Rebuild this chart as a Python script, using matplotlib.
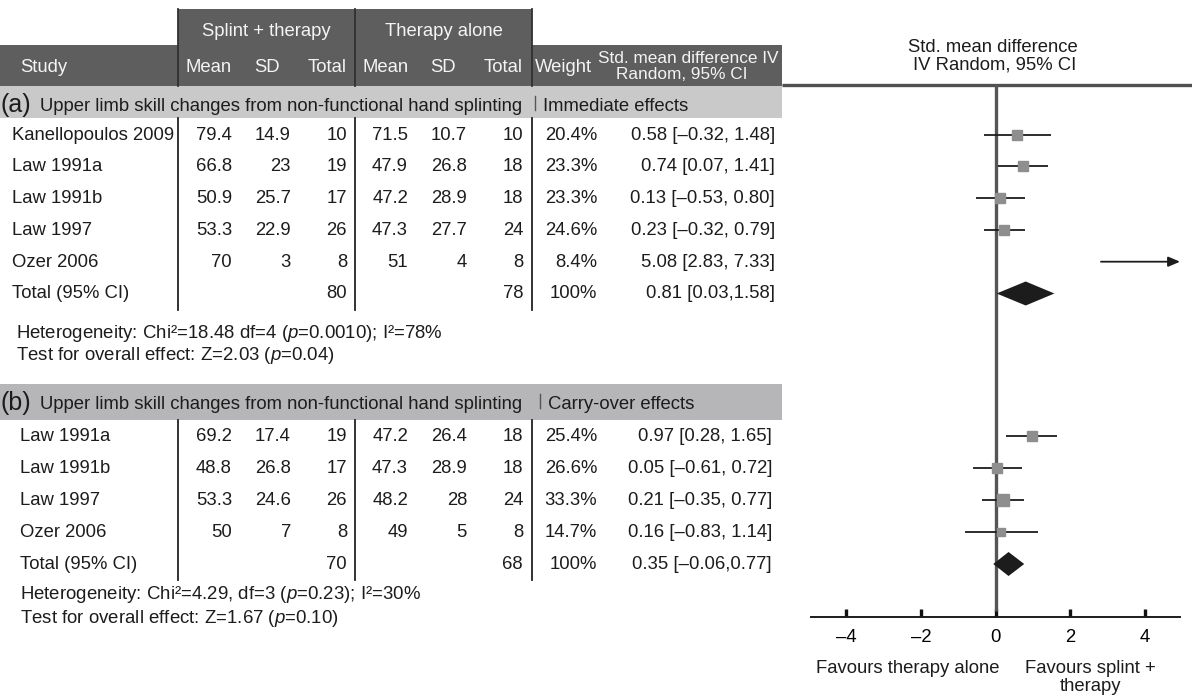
import matplotlib
matplotlib.use("Agg")
import matplotlib.pyplot as plt
from matplotlib.patches import Rectangle, Polygon
import numpy as np

plt.rcParams['font.family'] = ['Liberation Sans', 'DejaVu Sans']
plt.rcParams['mathtext.fontset'] = 'custom'
plt.rcParams['mathtext.rm'] = 'Liberation Sans'
plt.rcParams['mathtext.it'] = 'Liberation Sans:italic'

# ---- data: (a) immediate effects ----
studies_a = ["Kanellopoulos 2009", "Law 1991a", "Law 1991b", "Law 1997", "Ozer 2006"]
st_mean_a = [79.4, 66.8, 50.9, 53.3, 70]
st_sd_a = [14.9, 23, 25.7, 22.9, 3]
st_n_a = [10, 19, 17, 26, 8]
th_mean_a = [71.5, 47.9, 47.2, 47.3, 51]
th_sd_a = [10.7, 26.8, 28.9, 27.7, 4]
th_n_a = [10, 18, 18, 24, 8]
weight_a = [20.4, 23.3, 23.3, 24.6, 8.4]
smd_a = [0.58, 0.74, 0.13, 0.23, 5.08]
lo_a = [-0.32, 0.07, -0.53, -0.32, 2.83]
hi_a = [1.48, 1.41, 0.80, 0.79, 7.33]
total_n_a = [80, 78]
total_smd_a = [0.81, 0.03, 1.58]
het_a = "Heterogeneity: Chi²=18.48 df=4 ($p$=0.0010); I²=78%"
test_a = "Test for overall effect: Z=2.03 ($p$=0.04)"

# ---- data: (b) carry-over effects ----
studies_b = ["Law 1991a", "Law 1991b", "Law 1997", "Ozer 2006"]
st_mean_b = [69.2, 48.8, 53.3, 50]
st_sd_b = [17.4, 26.8, 24.6, 7]
st_n_b = [19, 17, 26, 8]
th_mean_b = [47.2, 47.3, 48.2, 49]
th_sd_b = [26.4, 28.9, 28, 5]
th_n_b = [18, 18, 24, 8]
weight_b = [25.4, 26.6, 33.3, 14.7]
smd_b = [0.97, 0.05, 0.21, 0.16]
lo_b = [0.28, -0.61, -0.35, -0.83]
hi_b = [1.65, 0.72, 0.77, 1.14]
total_n_b = [70, 68]
total_smd_b = [0.35, -0.06, 0.77]
het_b = "Heterogeneity: Chi²=4.29, df=3 ($p$=0.23); I²=30%"
test_b = "Test for overall effect: Z=1.67 ($p$=0.10)"

tick_values = [-4, -2, 0, 2, 4]
xlim_smd = (-4.95, 4.95)

# ---- styling ----
W, H = 1192, 697
FS = 13.3
DARK = "#5e5e5e"
BAND_A = "#c9c9c9"
BAND_B = "#b6b6b8"
HDR_TXT = "#f4f4f4"
INK = "#1c1c1c"
SQ = "#8e8e8e"

fig = plt.figure(figsize=(W / 100, H / 100), dpi=100)
ax = fig.add_axes([0, 0, 1, 1])
ax.set_xlim(0, W)
ax.set_ylim(H, 0)
ax.axis("off")

# column right edges (table)
c_mean1, c_sd1, c_n1 = 232, 291, 347
c_mean2, c_sd2, c_n2 = 408, 467, 523
c_w = 597
sep_x = [178, 355, 532]
table_right = 782


def dash(s):
    return s.replace("-", "\u2013")


def ci_text(e, l, h, space=True):
    sep = ", " if space else ","
    return dash(f"{e:.2f} [{l:.2f}{sep}{h:.2f}]")


def fmt(v):
    return f"{v:g}"


# header blocks
ax.add_patch(Rectangle((178, 9), 532 - 178, 36, color=DARK, lw=0))
ax.add_patch(Rectangle((0, 45), table_right, 41, color=DARK, lw=0))
for x in sep_x:
    ax.plot([x, x], [9, 86], color="#303030", lw=1.3)

ax.text((178 + 355) / 2, 36, "Splint + therapy", ha="center", va="baseline", fontsize=FS, color=HDR_TXT)
ax.text((355 + 532) / 2, 36, "Therapy alone", ha="center", va="baseline", fontsize=FS, color=HDR_TXT)
hb = 72
ax.text(20, hb, "Study", ha="left", va="baseline", fontsize=FS, color=HDR_TXT)
ax.text(c_mean1, hb, "Mean", ha="right", va="baseline", fontsize=FS, color=HDR_TXT)
ax.text(267, hb, "SD", ha="center", va="baseline", fontsize=FS, color=HDR_TXT)
ax.text(c_n1, hb, "Total", ha="right", va="baseline", fontsize=FS, color=HDR_TXT)
ax.text(386, hb, "Mean", ha="center", va="baseline", fontsize=FS, color=HDR_TXT)
ax.text(443, hb, "SD", ha="center", va="baseline", fontsize=FS, color=HDR_TXT)
ax.text(c_n2, hb, "Total", ha="right", va="baseline", fontsize=FS, color=HDR_TXT)
ax.text(563, hb, "Weight", ha="center", va="baseline", fontsize=FS, color=HDR_TXT)
ax.text(688, 63, "Std. mean difference IV", ha="center", va="baseline", fontsize=FS - 0.9, color=HDR_TXT)
ax.text(682, 79, "Random, 95% CI", ha="center", va="baseline", fontsize=FS - 0.9, color=HDR_TXT)

# forest header
ax.text(993, 52, "Std. mean difference", ha="center", va="baseline", fontsize=FS, color=INK)
ax.text(995, 70, "IV Random, 95% CI", ha="center", va="baseline", fontsize=FS, color=INK)
ax.plot([table_right, W], [84.5, 84.5], color="#505050", lw=2.4, solid_capstyle="butt")

# forest axes sharing the pixel y-scale of the table
fx0, fx1 = 811, 1180
axf = fig.add_axes([fx0 / W, 0, (fx1 - fx0) / W, 1])
axf.set_ylim(H, 0)
axf.set_xlim(*xlim_smd)
axf.patch.set_alpha(0)
for s in ["left", "right", "top"]:
    axf.spines[s].set_visible(False)
axf.spines["bottom"].set_position(("data", 617))
axf.spines["bottom"].set_linewidth(1.4)
axf.spines["bottom"].set_color(INK)
axf.set_yticks([])
axf.set_xticks(tick_values)
axf.set_xticklabels([dash(str(v)) for v in tick_values])
axf.tick_params(axis="x", direction="in", length=6, width=2.4, color="#111111",
                labelsize=FS, pad=9)
axf.vlines(0, 84, 611, color="#555555", lw=2.4, zorder=2)


def panel(letter, band_top, band_h, band_color, base0, step, indent,
          studies, m1, s1, n1, m2, s2, n2, wts, est, lo, hi, tot_n, tot_smd,
          het, test, het_x, het_base, test_gap, ci_right, bar_x):
    ax.add_patch(Rectangle((0, band_top), table_right, band_h, color=band_color, lw=0))
    bb = band_top + 25
    ax.text(0, bb + 1, f"({letter})", ha="left", va="baseline", fontsize=18, color=INK)
    ax.text(40, bb, "Upper limb skill changes from non-functional hand splinting",
            ha="left", va="baseline", fontsize=FS, color=INK)
    ax.plot([bar_x, bar_x], [band_top + 10, band_top + 24], color="#555555", lw=1.0)
    label = "Immediate effects" if letter == "a" else "Carry-over effects"
    ax.text(bar_x + 8, bb, label, ha="left", va="baseline", fontsize=FS, color=INK)

    nrows = len(studies) + 1
    bases = [base0 + i * step for i in range(nrows)]
    for x in sep_x:
        ax.plot([x, x], [band_top + band_h, bases[-1] + 11], color="#222222", lw=1.3)

    for i, name in enumerate(studies):
        y = bases[i]
        ax.text(indent, y, name, ha="left", va="baseline", fontsize=FS, color=INK)
        ax.text(c_mean1, y, fmt(m1[i]), ha="right", va="baseline", fontsize=FS, color=INK)
        ax.text(c_sd1, y, fmt(s1[i]), ha="right", va="baseline", fontsize=FS, color=INK)
        ax.text(c_n1, y, fmt(n1[i]), ha="right", va="baseline", fontsize=FS, color=INK)
        ax.text(c_mean2, y, fmt(m2[i]), ha="right", va="baseline", fontsize=FS, color=INK)
        ax.text(c_sd2, y, fmt(s2[i]), ha="right", va="baseline", fontsize=FS, color=INK)
        ax.text(c_n2, y, fmt(n2[i]), ha="right", va="baseline", fontsize=FS, color=INK)
        ax.text(c_w, y, f"{wts[i]:.1f}%", ha="right", va="baseline", fontsize=FS, color=INK)
        ax.text(ci_right, y, ci_text(est[i], lo[i], hi[i]), ha="right", va="baseline",
                fontsize=FS, color=INK)

        yc = y - 5
        xmax = xlim_smd[1]
        if hi[i] > xmax:
            axf.annotate("", xy=(xmax, yc), xytext=(lo[i], yc),
                         arrowprops=dict(arrowstyle="-|>,head_length=0.7,head_width=0.3",
                                         color=INK, lw=1.3, shrinkA=0, shrinkB=0),
                         annotation_clip=False)
        else:
            axf.hlines(yc, lo[i], hi[i], color=INK, lw=1.3, zorder=3)
        if est[i] <= xmax:
            side = 2.1 * np.sqrt(wts[i])
            axf.plot(est[i], yc, marker="s", ms=side * 0.72, color=SQ, mec=SQ,
                     zorder=4, linestyle="none")

    yt = bases[-1]
    ax.text(indent, yt, "Total (95% CI)", ha="left", va="baseline", fontsize=FS, color=INK)
    ax.text(c_n1, yt, fmt(tot_n[0]), ha="right", va="baseline", fontsize=FS, color=INK)
    ax.text(c_n2, yt, fmt(tot_n[1]), ha="right", va="baseline", fontsize=FS, color=INK)
    ax.text(c_w, yt, "100%", ha="right", va="baseline", fontsize=FS, color=INK)
    ax.text(ci_right, yt, ci_text(*tot_smd, space=False), ha="right", va="baseline",
            fontsize=FS, color=INK)
    e, l, h = tot_smd
    yc = yt - 5
    hh = 12
    axf.add_patch(Polygon([(l, yc), (e, yc - hh), (h, yc), (e, yc + hh)],
                          closed=True, color=INK, lw=0, zorder=5))

    ax.text(het_x, het_base, het, ha="left", va="baseline", fontsize=13.4, color=INK)
    ax.text(het_x, het_base + test_gap, test, ha="left", va="baseline", fontsize=13.4, color=INK)


panel("a", 86, 32, BAND_A, 139.5, 31.8, 12,
      studies_a, st_mean_a, st_sd_a, st_n_a, th_mean_a, th_sd_a, th_n_a,
      weight_a, smd_a, lo_a, hi_a, total_n_a, total_smd_a, het_a, test_a,
      16, 338, 22, 775, 535)
panel("b", 384, 36, BAND_B, 441, 32, 20,
      studies_b, st_mean_b, st_sd_b, st_n_b, th_mean_b, th_sd_b, th_n_b,
      weight_b, smd_b, lo_b, hi_b, total_n_b, total_smd_b, het_b, test_b,
      20, 599, 24, 772, 540)

# favour labels
ax.text(908, 673, "Favours therapy alone", ha="center", va="baseline", fontsize=FS, color=INK)
ax.text(1090, 673, "Favours splint +", ha="center", va="baseline", fontsize=FS, color=INK)
ax.text(1090, 691, "therapy", ha="center", va="baseline", fontsize=FS, color=INK)

fig.savefig("out.png", dpi=100)
